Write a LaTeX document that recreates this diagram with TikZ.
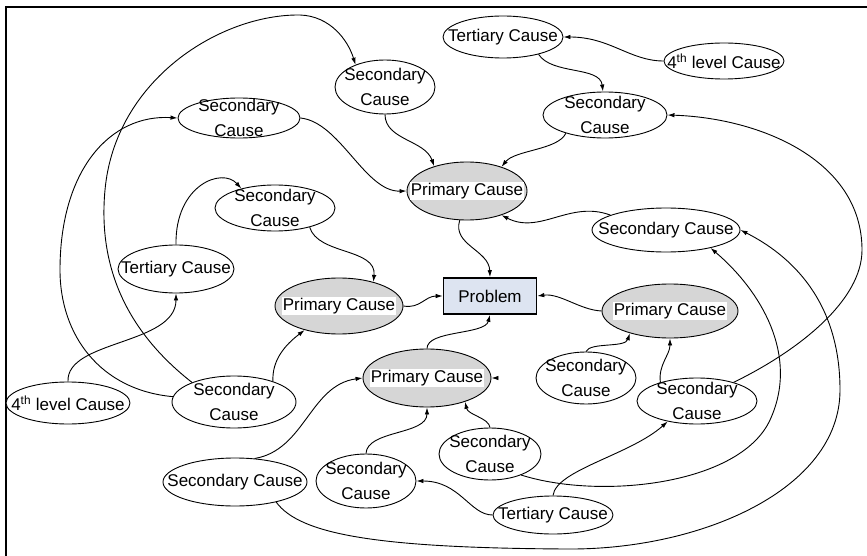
\documentclass[tikz,border=0pt]{standalone}
\usepackage{fontspec}
\setmainfont{Liberation Sans}
\usetikzlibrary{shapes.geometric,arrows.meta}
\definecolor{probfill}{RGB}{221,228,241}
\definecolor{primfill}{RGB}{214,214,214}
\begin{document}
\begin{tikzpicture}[x=1pt,y=-1pt,
  cause/.style={draw, ellipse, line width=0.9pt, inner sep=0pt, fill=white},
  primary/.style={cause, fill=primfill},
  txt/.style={font=\fontsize{17}{25}\selectfont, align=center, inner sep=0pt},
  hl/.style={txt, fill=white, inner sep=1pt},
  link/.style={-{Latex[length=7pt,width=4.5pt]}, line width=0.9pt},
]
\useasboundingbox (0,0) rectangle (867,556);
% frame
\draw[line width=2.2pt] (6,556) -- (6,7) -- (867,7);

% problem box
\node[draw, line width=1.6pt, fill=probfill, minimum width=93pt, minimum height=36pt,
      inner sep=0pt, font=\fontsize{17}{20}\selectfont] (prob) at (490,296) {Problem};

% primary causes
\node[primary, minimum width=120pt, minimum height=58pt, label={[hl]center:Primary Cause}] (pA) at (467,191) {};
\node[primary, minimum width=128pt, minimum height=56pt, label={[hl]center:Primary Cause}] (pB) at (339,306) {};
\node[primary, minimum width=136pt, minimum height=54pt, label={[hl]center:Primary Cause}] (pC) at (670,311) {};
\node[primary, minimum width=128pt, minimum height=58pt, label={[hl]center:Primary Cause}] (pD) at (427,378) {};

% secondary causes
\node[cause, minimum width=100pt, minimum height=54pt, label={[txt]center:{Secondary\\Cause}}] (sA) at (385,87) {};
\node[cause, minimum width=124pt, minimum height=46pt, label={[txt]center:{Secondary\\Cause}}] (sB) at (605,115) {};
\node[cause, minimum width=122pt, minimum height=40pt, label={[txt]center:{Secondary\\Cause}}] (sC) at (239,118) {};
\node[cause, minimum width=120pt, minimum height=46pt, label={[txt]center:{Secondary\\Cause}}] (sD) at (275,208) {};
\node[cause, minimum width=148pt, minimum height=44pt, label={[txt]center:Secondary Cause}] (sE) at (666,230) {};
\node[cause, minimum width=100pt, minimum height=52pt, label={[txt]center:{Secondary\\Cause}}] (sF) at (586,378) {};
\node[cause, minimum width=120pt, minimum height=46pt, label={[txt]center:{Secondary\\Cause}}] (sG) at (697,401) {};
\node[cause, minimum width=124pt, minimum height=52pt, label={[txt]center:{Secondary\\Cause}}] (sH) at (234,402) {};
\node[cause, minimum width=144pt, minimum height=48pt, label={[txt]center:Secondary Cause}] (sI) at (235,482) {};
\node[cause, minimum width=100pt, minimum height=54pt, label={[txt]center:{Secondary\\Cause}}] (sJ) at (366,481) {};
\node[cause, minimum width=102pt, minimum height=52pt, label={[txt]center:{Secondary\\Cause}}] (sK) at (490,454) {};

% tertiary causes
\node[cause, minimum width=120pt, minimum height=42pt, label={[txt]center:Tertiary Cause}] (tA) at (503,37) {};
\node[cause, minimum width=116pt, minimum height=48pt, label={[txt]center:Tertiary Cause}] (tB) at (176,269) {};
\node[cause, minimum width=120pt, minimum height=38pt, label={[txt]center:Tertiary Cause}] (tC) at (553,515) {};

% fourth level causes
\node[cause, minimum width=120pt, minimum height=36pt, label={[txt]center:4\textsuperscript{th} level Cause}] (fA) at (724,61) {};
\node[cause, minimum width=124pt, minimum height=42pt, label={[txt]center:4\textsuperscript{th} level Cause}] (fB) at (68,403) {};

% connectors
\draw[link] (sH.175) .. controls (100,390) and (60,335) .. (60,270) .. controls (60,170) and (110,114) .. (sC.180);
\draw[link] (sH.155) .. controls (125,330) and (98,265) .. (105,190) .. controls (115,80) and (220,14) .. (300,15) .. controls (330,16) and (348,40) .. (sA.143);
\draw[link] (tB.north) .. controls (175,185) and (222,167) .. (sD.150);
\draw[link] (fB.north) .. controls (66,340) and (176,345) .. (tB.south);
\draw[link] (sC.east) .. controls (340,122) and (365,192) .. (pA.west);
\draw[link] (sA.south) .. controls (385,140) and (425,140) .. (pA.143);
\draw[link] (sB.205) .. controls (558,150) and (515,150) .. (pA.35);
\draw[link] (tA.334) .. controls (552,75) and (600,66) .. (sB.95);
\draw[link] (fA.west) .. controls (630,61) and (610,37) .. (tA.east);
\draw[link] (sE.165) .. controls (570,200) and (540,235) .. (pA.325);
\draw[link] (pA.256) .. controls (452,245) and (489,250) .. (prob.north);
\draw[link] (sD.331) .. controls (318,255) and (377,248) .. (pB.35);
\draw[link] (pB.east) .. controls (420,309) and (425,296) .. (prob.west);
\draw[link] (pC.west) .. controls (580,310) and (560,293) .. (prob.east);
\draw[link] (pD.north) .. controls (427,330) and (485,335) .. (prob.south);
\draw[link] (sH.28) .. controls (272,360) and (285,345) .. (pB.215);
\draw[link] (sI.50) .. controls (305,450) and (310,385) .. (pD.west);
\draw[link] (sJ.north) .. controls (367,430) and (427,435) .. (pD.south);
\draw[link] (sK.north) .. controls (489,418) and (468,415) .. (pD.328);
\draw[link] (tC.west) .. controls (470,515) and (460,481) .. (sJ.east);
\draw[link] (sF.north) .. controls (590,342) and (625,348) .. (pC.209);
\draw[link] (sG.153) .. controls (658,365) and (670,355) .. (pC.south);
\draw[link] (tC.north) .. controls (556,470) and (630,455) .. (sG.215);
\draw[link] (sG.27) .. controls (800,350) and (862,300) .. (862,250) .. controls (862,160) and (760,118) .. (sB.east);
\draw[link] (sK.326) .. controls (600,500) and (740,485) .. (770,420) .. controls (800,355) and (760,290) .. (sE.338);
\draw[link] (sI.334) .. controls (300,535) and (380,548) .. (567,549) .. controls (700,550) and (840,490) .. (840,390) .. controls (840,300) and (790,255) .. (sE.east);
% short stub on the right of the lower primary cause
\coordinate (stub) at (497,378);
\draw[link] (stub) -- (pD.east);
\end{tikzpicture}
\end{document}
